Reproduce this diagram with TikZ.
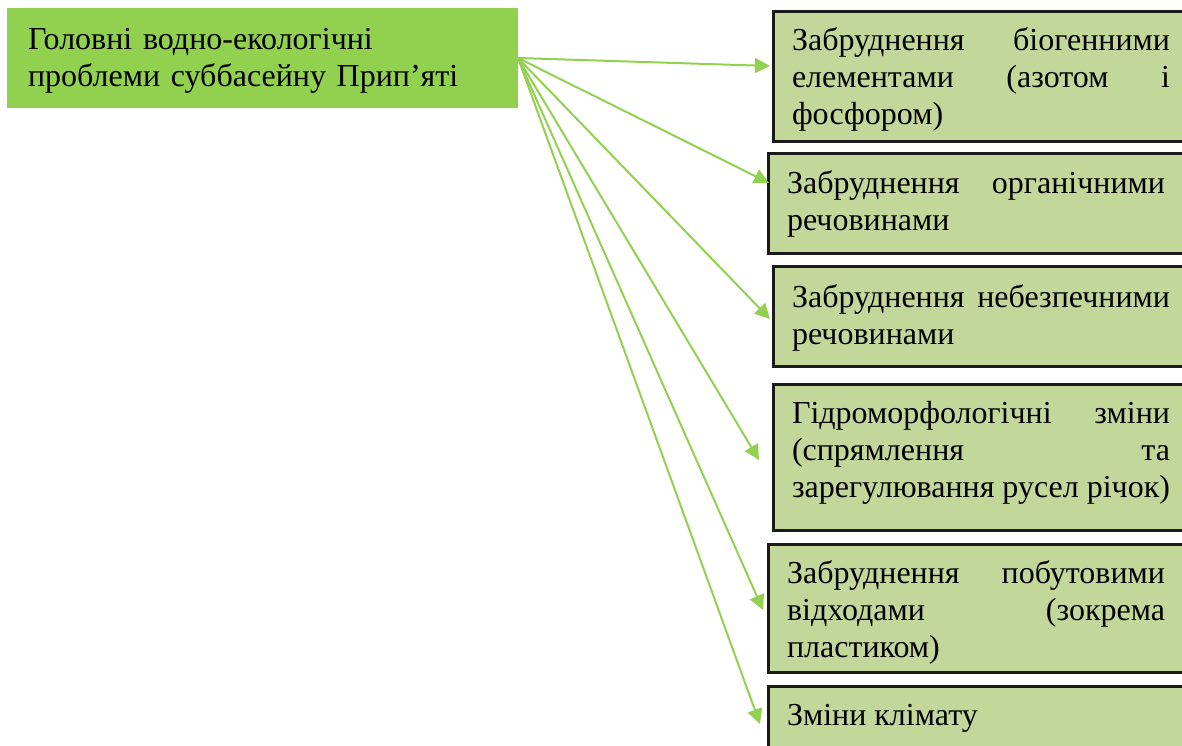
\documentclass[tikz,border=0pt]{standalone}
\usepackage{fontspec}
\setmainfont{Liberation Serif}
\usetikzlibrary{arrows.meta}
\definecolor{headgreen}{HTML}{92D050}
\definecolor{boxgreen}{HTML}{C4D79B}
\definecolor{boxline}{HTML}{1A1A1A}
\tikzset{x=1pt, y=-1pt,
	head/.style={fill=headgreen, text width=469pt, align=left, inner xsep=21pt, inner ysep=0pt, outer sep=0pt, text height=41pt, text depth=59pt, anchor=north west, font=\fontsize{32}{37}\selectfont},
	problem/.style={draw=boxline, fill=boxgreen, line width=3pt, text width=378pt, align=justify, inner xsep=18.5pt, inner ysep=0pt, text height=38.5pt, anchor=north west, font=\fontsize{32}{37}\selectfont},
	link/.style={draw=headgreen, line width=2pt, -{Triangle[length=15pt,width=15pt]}}}

\begin{document}
\begin{tikzpicture}
				\useasboundingbox (0,0) rectangle (1182,745);
				\clip (0,0) rectangle (1182,745);

				\node[head] (M) at (7,8) {Головні водно-екологічні\\проблеми суббасейну Прип’яті};

				\node[problem, text depth=91.5pt] (P1) at (772,10) {Забруднення біогенними\linebreak елементами (азотом і\linebreak фосфором)};
				\node[problem, text height=39.5pt, text depth=60.5pt] (P2) at (767,152) {Забруднення органічними\linebreak речовинами};
				\node[problem, text height=40.5pt, text depth=59.5pt] (P3) at (772,265) {Забруднення небезпечними\linebreak речовинами};
				\node[problem, text depth=107.5pt] (P4) at (772,383) {Гідроморфологічні зміни\linebreak (спрямлення та\linebreak зарегулювання русел річок)};
				\node[problem, text depth=89.5pt] (P5) at (767,543) {Забруднення побутовими\linebreak відходами (зокрема\linebreak пластиком)};
				\node[problem, text depth=80pt] (P6) at (767,685) {Зміни клімату};

				\coordinate (T1) at (770,66);
				\coordinate (T2) at (769,183);
				\coordinate (T3) at (770,319);
				\coordinate (T4) at (759,460);
				\coordinate (T5) at (763,610);
				\coordinate (T6) at (760,724);

				\foreach \t in {T1,T2,T3,T4,T5,T6}
					\path[link] (M.east) -- (\t);
			\end{tikzpicture}
\end{document}
